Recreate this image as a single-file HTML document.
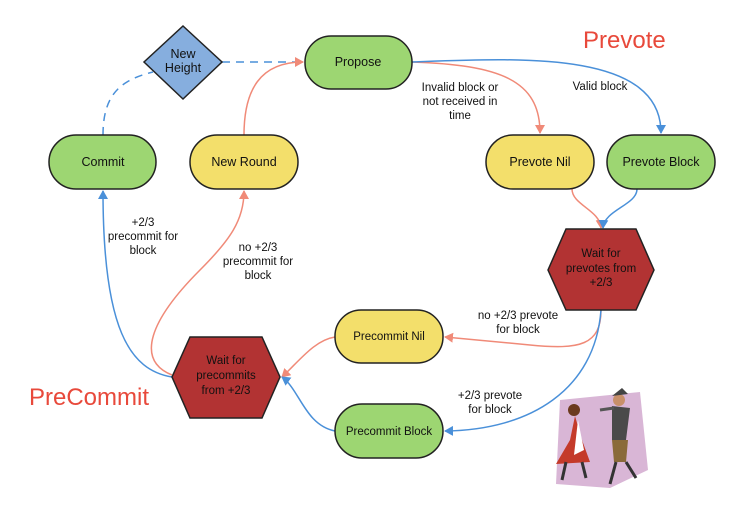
<!DOCTYPE html>
<html><head><meta charset="utf-8"><style>
html,body{margin:0;padding:0;background:#fff;}
svg{display:block;font-family:"Liberation Sans",sans-serif;}
</style></head><body>
<svg width="754" height="515" viewBox="0 0 754 515" xmlns="http://www.w3.org/2000/svg">
<defs>
<marker id="ab" markerWidth="10" markerHeight="10" refX="8" refY="5" orient="auto" markerUnits="userSpaceOnUse"><path d="M0,0 L9,5 L0,10 z" fill="#4a90d9"/></marker>
<marker id="ar" markerWidth="10" markerHeight="10" refX="8" refY="5" orient="auto" markerUnits="userSpaceOnUse"><path d="M0,0 L9,5 L0,10 z" fill="#f08a78"/></marker>
</defs>
<g fill="none" stroke-width="1.5">
<path d="M103,135 C103,95 120,80 153,72" stroke="#4a90d9" stroke-dasharray="8,6"/>
<path d="M222,62 L300,62" stroke="#4a90d9" stroke-dasharray="8,6"/>
<path d="M244,135 C244,90 260,62 303,62" stroke="#f08a78" marker-end="url(#ar)"/>
<path d="M412,62 C500,65 540,80 540,133" stroke="#f08a78" marker-end="url(#ar)"/>
<path d="M412,62 C520,58 661,50 661,133" stroke="#4a90d9" marker-end="url(#ab)"/>
<path d="M572,189 C572,205 600,210 601,228" stroke="#f08a78" marker-end="url(#ar)"/>
<path d="M637,189 C637,205 604,210 603,228" stroke="#4a90d9" marker-end="url(#ab)"/>
<path d="M601,310 C601,345 580,350 530,345 L445,337" stroke="#f08a78" marker-end="url(#ar)"/>
<path d="M601,310 C595,390 530,430 445,431" stroke="#4a90d9" marker-end="url(#ab)"/>
<path d="M335,337 C315,340 300,360 282,377" stroke="#f08a78" marker-end="url(#ar)"/>
<path d="M335,431 C305,425 300,390 282,377" stroke="#4a90d9" marker-end="url(#ab)"/>
<path d="M172,377 C130,370 103,330 103,191" stroke="#4a90d9" marker-end="url(#ab)"/>
<path d="M172,375 C135,360 150,320 200,270 C230,240 244,220 244,191" stroke="#f08a78" marker-end="url(#ar)"/>
</g>
<g stroke="#222" stroke-width="1.5">
<path d="M183,26 L222,62 L183,99 L144,62 z" fill="#86aede"/>
<rect x="305" y="36" width="107" height="53" rx="26" fill="#9dd672"/>
<rect x="49" y="135" width="107" height="54" rx="27" fill="#9dd672"/>
<rect x="190" y="135" width="108" height="54" rx="27" fill="#f3df6b"/>
<rect x="486" y="135" width="108" height="54" rx="27" fill="#f3df6b"/>
<rect x="607" y="135" width="108" height="54" rx="27" fill="#9dd672"/>
<path d="M566,229 L636,229 L654,270 L636,310 L566,310 L548,270 z" fill="#b23333"/>
<rect x="335" y="310" width="108" height="53" rx="26" fill="#f3df6b"/>
<path d="M190,337 L262,337 L280,377 L262,418 L190,418 L172,377 z" fill="#b23333"/>
<rect x="335" y="404" width="108" height="54" rx="27" fill="#9dd672"/>
</g>
<g font-size="12.5" fill="#111" text-anchor="middle">
<text x="183" y="58">New</text><text x="183" y="72">Height</text>
<text x="358" y="66">Propose</text>
<text x="103" y="166">Commit</text>
<text x="244" y="166">New Round</text>
<text x="540" y="166">Prevote Nil</text>
<text x="661" y="166">Prevote Block</text>
<text x="601" y="257" font-size="11.5">Wait for</text><text x="601" y="272" font-size="11.5">prevotes from</text><text x="601" y="286" font-size="11.5">+2/3</text>
<text x="389" y="340" font-size="11.5">Precommit Nil</text>
<text x="226" y="364" font-size="11.5">Wait for</text><text x="226" y="379" font-size="11.5">precommits</text><text x="226" y="394" font-size="11.5">from +2/3</text>
<text x="389" y="435" font-size="11.5">Precommit Block</text>
</g>
<g font-size="11.5" fill="#111" text-anchor="middle">
<text x="143" y="226">+2/3</text><text x="143" y="240">precommit for</text><text x="143" y="254">block</text>
<text x="258" y="251">no +2/3</text><text x="258" y="265">precommit for</text><text x="258" y="279">block</text>
<text x="460" y="91">Invalid block or</text><text x="460" y="105">not received in</text><text x="460" y="119">time</text>
<text x="600" y="90">Valid block</text>
<text x="518" y="319">no +2/3 prevote</text><text x="518" y="333">for block</text>
<text x="490" y="399">+2/3 prevote</text><text x="490" y="413">for block</text>
</g>
<text x="583" y="48" font-size="24" fill="#e8493b">Prevote</text>
<text x="29" y="405" font-size="24" fill="#e8493b">PreCommit</text>
<g>
<path d="M560,400 L640,392 L648,470 L610,488 L556,484 z" fill="#d9b6d6"/>
<circle cx="574" cy="410" r="6" fill="#6b3a1e"/>
<circle cx="619" cy="400" r="6" fill="#c8906a"/>
<path d="M612,396 L628,394 L622,388 z" fill="#444"/>
<path d="M575,416 L570,440 L556,464 L590,462 L582,440 z" fill="#c43a2a"/>
<path d="M578,420 L584,450 L574,455 z" fill="#fff"/>
<path d="M612,406 L630,408 L626,440 L612,440 z" fill="#4a4a4a"/>
<path d="M612,440 L628,440 L626,462 L614,462 z" fill="#8a6a3a"/>
<path d="M600,410 L614,408" stroke="#555" stroke-width="3"/>
<path d="M566,462 L562,480 M582,462 L586,478 M616,462 L610,484 M626,462 L636,478" stroke="#333" stroke-width="3"/>
</g>
</svg>
</body></html>
